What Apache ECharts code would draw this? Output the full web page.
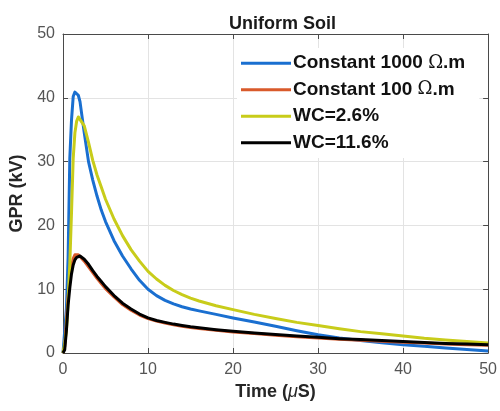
<!DOCTYPE html>
<html>
<head>
<meta charset="utf-8">
<script src="https://cdn.jsdelivr.net/npm/echarts@6/dist/echarts.min.js"></script>
<style>
  html, body { margin: 0; padding: 0; background: #fff; }
  #chart { width: 500px; height: 411px; }
</style>
</head>
<body>
<div id="chart"></div>
<script>
// Ground potential rise of a uniform soil, sampled on a shared time grid (µs)
const timeUs = [0, 0.2, 0.4, 0.6, 0.8, 1.0, 1.2, 1.4, 1.6, 1.8, 2.0, 2.5, 3, 3.5, 4, 4.5, 5, 6, 7, 8, 9, 10, 11, 12, 13, 14, 15, 16, 18, 20, 22.5, 25, 27.5, 30, 32.5, 35, 37.5, 40, 42.5, 45, 47.5, 50];

// GPR in kV for each soil model
const gprConst1000 = [0, 3.5, 7, 15, 30.5, 36.5, 40.2, 40.9, 41.0, 40.4, 39.4, 34.5, 30, 27.1, 24.6, 22.4, 20.6, 17.6, 15.2, 13.2, 11.4, 10.0, 9.0, 8.25, 7.7, 7.25, 6.9, 6.6, 6.05, 5.5, 4.85, 4.2, 3.5, 2.85, 2.35, 1.95, 1.6, 1.3, 1.05, 0.8, 0.55, 0.3];
const gprConst100 = [0, 1.0, 5.0, 9.0, 11.5, 13.5, 14.8, 15.4, 15.6, 15.4, 15.1, 14.4, 13.5, 12.6, 11.7, 10.9, 10.1, 8.8, 7.6, 6.7, 5.95, 5.4, 5.0, 4.7, 4.43, 4.2, 4.0, 3.85, 3.55, 3.3, 3.05, 2.8, 2.55, 2.35, 2.15, 2.0, 1.85, 1.7, 1.55, 1.4, 1.3, 1.2];
const gprWc26 = [0, 1.5, 3.5, 8, 14, 22, 30.5, 34.5, 36.3, 37.0, 37.2, 35.6, 33, 30.2, 27.9, 26.0, 24.1, 21.0, 18.4, 16.2, 14.4, 12.8, 11.6, 10.6, 9.8, 9.15, 8.6, 8.15, 7.4, 6.8, 6.05, 5.4, 4.8, 4.3, 3.8, 3.35, 3.0, 2.65, 2.3, 2.05, 1.8, 1.55];
const gprWc116 = [0, 0.5, 3.5, 7.5, 10.2, 12.4, 13.8, 14.6, 15.0, 15.2, 15.2, 14.7, 13.9, 12.9, 12.0, 11.2, 10.4, 9.0, 7.8, 6.9, 6.1, 5.5, 5.1, 4.8, 4.53, 4.3, 4.1, 3.95, 3.65, 3.4, 3.15, 2.9, 2.65, 2.45, 2.25, 2.1, 1.95, 1.8, 1.65, 1.5, 1.4, 1.3];

const seriesNames = ['Constant 1000 Ω.m', 'Constant 100 Ω.m', 'WC=2.6%', 'WC=11.6%'];
const seriesValues = [gprConst1000, gprConst100, gprWc26, gprWc116];
const seriesColors = ['#1a6fd0', '#d95a2b', '#c8cc1a', '#000000'];

const xTicks = { min: 0, max: 50, interval: 10 };
const yTicks = { min: 0, max: 50, interval: 10 };

const FONT = '"Liberation Sans", Arial, sans-serif';
const axisColor = '#4a4a4a';
const gridColor = '#e3e3e3';

function pairs(values) {
  return timeUs.map((t, i) => [t, values[i]]);
}

const plotLeft = 63, plotRight = 8, plotTop = 34, plotBottom = 58;

const chart = echarts.init(document.getElementById('chart'), null, { renderer: 'canvas' });

const hiddenAxisBase = {
  type: 'value',
  axisLine: { show: true, onZero: false, lineStyle: { color: axisColor, width: 1 } },
  axisTick: { show: true, inside: true, length: 5, lineStyle: { color: axisColor } },
  axisLabel: { show: false },
  splitLine: { show: false }
};

chart.setOption({
  backgroundColor: '#ffffff',
  animation: false,
  title: {
    text: 'Uniform Soil',
    left: plotLeft + (500 - plotLeft - plotRight) / 2,
    textAlign: 'center',
    top: 10,
    textStyle: { fontFamily: FONT, fontSize: 18, fontWeight: 'bold', color: '#1a1a1a' }
  },
  grid: { left: plotLeft, right: plotRight, top: plotTop, bottom: plotBottom, containLabel: false },
  legend: {
    orient: 'vertical',
    left: 237,
    top: 48,
    padding: [2, 14, 2, 4],
    backgroundColor: '#ffffff',
    itemWidth: 50,
    itemHeight: 3,
    itemGap: 0,
    icon: 'rect',
    data: seriesNames,
    formatter: name => name.replace('Ω', '{om|Ω}'),
    textStyle: {
      fontFamily: FONT, fontSize: 19, fontWeight: 'bold', color: '#111',
      lineHeight: 26.5, padding: [0, 0, 0, -3],
      rich: {
        om: { fontFamily: '"DejaVu Serif", "Liberation Serif", serif', fontSize: 18, fontWeight: 'normal', color: '#111' }
      }
    }
  },
  xAxis: [
    {
      type: 'value', min: xTicks.min, max: xTicks.max, interval: xTicks.interval,
      position: 'bottom',
      name: 'Time ({mu|μ}S)',
      nameLocation: 'middle',
      nameGap: 29,
      nameTextStyle: {
        fontFamily: FONT, fontSize: 18, fontWeight: 'bold', color: '#262626',
        rich: { mu: { fontFamily: FONT, fontSize: 18, fontStyle: 'italic', fontWeight: 'normal', color: '#262626' } }
      },
      axisLine: { show: true, onZero: false, lineStyle: { color: axisColor, width: 1 } },
      axisTick: { show: true, inside: true, length: 5, lineStyle: { color: axisColor } },
      axisLabel: { fontFamily: FONT, fontSize: 16, color: '#555', margin: 9 },
      splitLine: { show: true, lineStyle: { color: gridColor, width: 1 } }
    },
    Object.assign({}, hiddenAxisBase, { min: xTicks.min, max: xTicks.max, interval: xTicks.interval, position: 'top' })
  ],
  yAxis: [
    {
      type: 'value', min: yTicks.min, max: yTicks.max, interval: yTicks.interval,
      position: 'left',
      name: 'GPR (kV)',
      nameLocation: 'middle',
      nameGap: 33,
      nameTextStyle: { fontFamily: FONT, fontSize: 18, fontWeight: 'bold', color: '#262626' },
      axisLine: { show: true, onZero: false, lineStyle: { color: axisColor, width: 1 } },
      axisTick: { show: true, inside: true, length: 5, lineStyle: { color: axisColor } },
      axisLabel: { fontFamily: FONT, fontSize: 16, color: '#555', margin: 8 },
      splitLine: { show: true, lineStyle: { color: gridColor, width: 1 } }
    },
    Object.assign({}, hiddenAxisBase, { min: yTicks.min, max: yTicks.max, interval: yTicks.interval, position: 'right' })
  ],
  series: seriesNames.map((name, i) => ({
    name: name,
    type: 'line',
    xAxisIndex: 0,
    yAxisIndex: 0,
    data: pairs(seriesValues[i]),
    showSymbol: false,
    smooth: false,
    color: seriesColors[i],
    lineStyle: { color: seriesColors[i], width: 3, join: 'round' },
    z: 2 + i
  }))
});
</script>
</body>
</html>
